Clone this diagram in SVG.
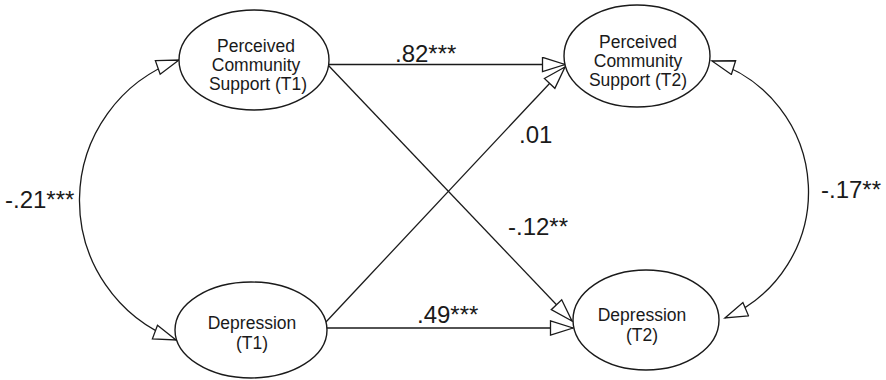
<svg xmlns="http://www.w3.org/2000/svg" width="886" height="380" viewBox="0 0 886 380">
  <style>
    .node ellipse { fill: #ffffff; stroke: #1a1a1a; stroke-width: 1.4; }
    .node text { font-family: "Liberation Sans", Arial, sans-serif; font-size: 17.5px; fill: #1a1a1a; text-anchor: middle; }
    .edge { fill: none; stroke: #1a1a1a; stroke-width: 1.3; }
    .coef { font-family: "Liberation Sans", Arial, sans-serif; font-size: 24px; fill: #1a1a1a; }
  </style>
  <defs>
    <marker id="open" markerUnits="userSpaceOnUse" viewBox="0 0 26 18" markerWidth="26" markerHeight="18" refX="24" refY="8" orient="auto-start-reverse">
      <path d="M1.5,0.8 L24,8 L1.5,15.2 Z" fill="#ffffff" stroke="#1a1a1a" stroke-width="1.3" stroke-linejoin="miter"/>
    </marker>
  </defs>
  <rect width="886" height="380" fill="#ffffff"/>

  <!-- paths and covariances -->
  <g id="connectors">
    <line class="edge" x1="328" y1="64.5" x2="565" y2="64.5" marker-end="url(#open)"/>
    <line class="edge" x1="328" y1="65" x2="572" y2="321" marker-end="url(#open)"/>
    <line class="edge" x1="325" y1="323" x2="565" y2="67" marker-end="url(#open)"/>
    <line class="edge" x1="327" y1="328" x2="573" y2="328" marker-end="url(#open)"/>
    <path class="edge" d="M179,60 A149,149 0 0 0 176,340" marker-start="url(#open)" marker-end="url(#open)"/>
    <path class="edge" d="M712,61 A137,137 0 0 1 725,318" marker-start="url(#open)" marker-end="url(#open)"/>
  </g>

  <g id="pcs-t1" class="node">
    <ellipse cx="254" cy="60" rx="75" ry="50"/>
    <text x="256" y="52">Perceived</text>
    <text x="256" y="71">Community</text>
    <text x="258" y="90">Support (T1)</text>
  </g>
  <g id="pcs-t2" class="node">
    <ellipse cx="637" cy="56" rx="73" ry="51"/>
    <text x="638" y="48">Perceived</text>
    <text x="638" y="67">Community</text>
    <text x="638" y="86">Support (T2)</text>
  </g>
  <g id="dep-t1" class="node">
    <ellipse cx="251" cy="330" rx="76" ry="48"/>
    <text x="252" y="329">Depression</text>
    <text x="252" y="349">(T1)</text>
  </g>
  <g id="dep-t2" class="node">
    <ellipse cx="646" cy="320" rx="73" ry="50"/>
    <text x="642" y="321">Depression</text>
    <text x="642" y="341">(T2)</text>
  </g>

  <g id="coefficients">
    <text class="coef" x="395" y="62">.82***</text>
    <text class="coef" x="519" y="143">.01</text>
    <text class="coef" x="508" y="235">-.12**</text>
    <text class="coef" x="417" y="323">.49***</text>
    <text class="coef" x="5" y="208">-.21***</text>
    <text class="coef" x="821" y="198">-.17**</text>
  </g>
</svg>
